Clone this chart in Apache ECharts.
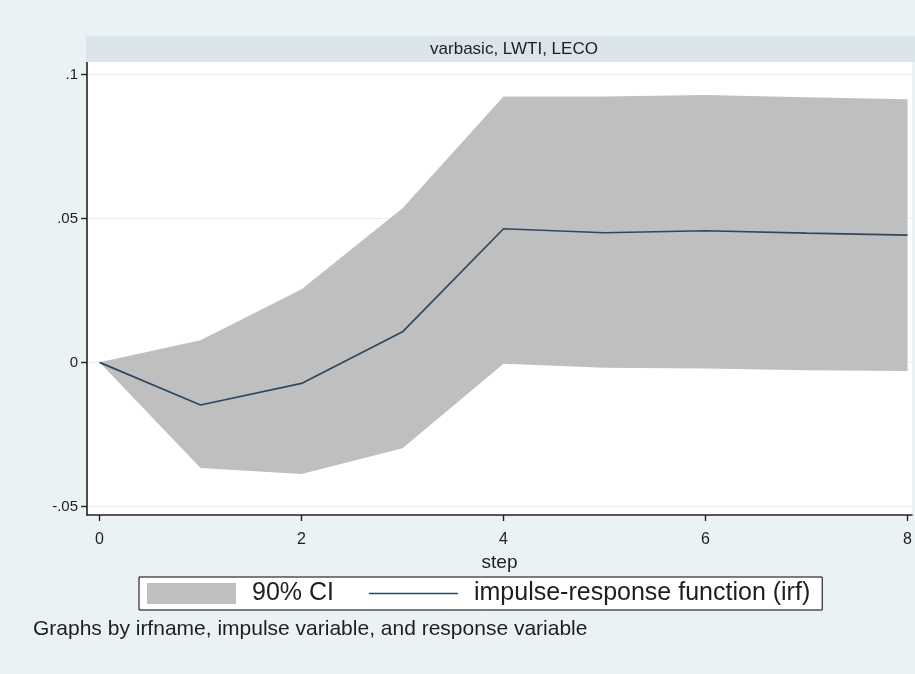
<!DOCTYPE html>
<html>
<head>
<meta charset="utf-8">
<script src="https://cdn.jsdelivr.net/npm/echarts@6/dist/echarts.min.js"></script>
<style>
  html, body { margin: 0; padding: 0; background: #eaf2f3; }
  #chart { width: 915px; height: 674px; }
</style>
</head>
<body>
<div id="chart"></div>
<script>
// Impulse-response of LECO to an LWTI shock, with 90% confidence band
const steps   = [0, 1, 2, 3, 4, 5, 6, 7, 8];
const irf     = [0, -0.0148, -0.0073, 0.0106, 0.0464, 0.0450, 0.0457, 0.0449, 0.0442];
const ciLower = [0, -0.0367, -0.0388, -0.0298, -0.0005, -0.0019, -0.0021, -0.0027, -0.0030];
const ciUpper = [0, 0.0077, 0.0254, 0.0535, 0.0923, 0.0923, 0.0928, 0.0921, 0.0914];

const yTicks      = [-0.05, 0, 0.05, 0.1];
const yTickLabels = ['-.05', '0', '.05', '.1'];
const xTicks      = [0, 2, 4, 6, 8];

const panelTitle = 'varbasic, LWTI, LECO';
const xTitle     = 'step';
const ciName     = '90% CI';
const irfName    = 'impulse-response function (irf)';
const note       = 'Graphs by irfname, impulse variable, and response variable';

const FONT = '"Liberation Sans", Arial, sans-serif';
const INK = '#1e1e1e';
const AXIS = '#222';
const BAND = '#bfbfbf';
const LINE = '#2d4760';

// legend key for the irf: a thin horizontal bar inside a full-height box
const LINE_KEY = 'path://M0,0 L89,0 L89,0.01 L0,0.01 Z M0,9.7 L89,9.7 L89,11.3 L0,11.3 Z M0,21 L89,21 L89,21.01 L0,21.01 Z';

const chart = echarts.init(document.getElementById('chart'), null, { renderer: 'canvas' });

function yLabel(v) {
  for (let i = 0; i < yTicks.length; i++) {
    if (Math.abs(yTicks[i] - v) < 1e-9) return yTickLabels[i];
  }
  return '';
}

const bandData = steps.map((s, i) => [s, ciLower[i], ciUpper[i]]);
const irfData = steps.map((s, i) => [s, irf[i]]);

chart.setOption({
  backgroundColor: '#eaf2f3',
  animation: false,
  grid: {
    left: 87, right: 0, top: 62, bottom: 159,
    show: true, backgroundColor: '#ffffff', borderWidth: 0
  },
  xAxis: {
    type: 'value',
    min: -0.124, max: 8.044,
    name: xTitle,
    nameLocation: 'middle',
    nameGap: 38,
    nameTextStyle: { fontFamily: FONT, fontSize: 19, color: INK },
    axisLine: { show: true, onZero: false, lineStyle: { color: AXIS, width: 1.6 } },
    axisTick: { show: true, length: 6, customValues: xTicks, lineStyle: { color: AXIS, width: 1.4 } },
    axisLabel: { customValues: xTicks, margin: 17, fontFamily: FONT, fontSize: 16, color: INK },
    splitLine: { show: false }
  },
  yAxis: {
    type: 'value',
    min: -0.053, max: 0.1043,
    axisLine: { show: true, onZero: false, lineStyle: { color: AXIS, width: 1.6 } },
    axisTick: { show: true, length: 6, customValues: yTicks, lineStyle: { color: AXIS, width: 1.4 } },
    axisLabel: { customValues: yTicks, margin: 9, formatter: yLabel, fontFamily: FONT, fontSize: 15, color: INK },
    splitLine: { show: false }
  },
  legend: {
    left: 139, top: 577,
    orient: 'horizontal',
    backgroundColor: '#ffffff',
    borderColor: '#000', borderWidth: 1, borderRadius: 0,
    padding: [4, 12, 4, 8],
    itemWidth: 89, itemHeight: 21, itemGap: 35,
    selectedMode: false,
    textStyle: { fontFamily: FONT, fontSize: 25, color: INK, padding: [0, 0, 0, 11] },
    data: [
      { name: ciName, icon: 'rect' },
      { name: irfName, icon: LINE_KEY }
    ]
  },
  series: [
    {
      // faint horizontal rules at the labelled y values, kept beneath the band
      type: 'line',
      name: 'rules',
      data: [],
      silent: true,
      z: 0,
      markLine: {
        silent: true,
        z: 0,
        symbol: 'none',
        label: { show: false },
        lineStyle: { color: '#e8eff1', width: 1, type: 'solid' },
        data: yTicks.map(v => ({ yAxis: v }))
      }
    },
    {
      type: 'custom',
      name: ciName,
      data: bandData,
      encode: { x: 0, y: [1, 2] },
      itemStyle: { color: BAND },
      z: 2,
      renderItem: function (params, api) {
        if (params.dataIndex !== 0) return null;
        const pts = [];
        for (let i = 0; i < steps.length; i++) pts.push(api.coord([steps[i], ciUpper[i]]));
        for (let i = steps.length - 1; i >= 0; i--) pts.push(api.coord([steps[i], ciLower[i]]));
        return {
          type: 'polygon',
          shape: { points: pts },
          style: { fill: BAND, stroke: 'none' }
        };
      }
    },
    {
      type: 'line',
      name: irfName,
      data: irfData,
      symbol: 'none',
      z: 3,
      lineStyle: { color: LINE, width: 1.7 },
      itemStyle: { color: LINE }
    }
  ],
  graphic: [
    {
      type: 'rect',
      shape: { x: 86, y: 36, width: 829, height: 26 },
      style: { fill: '#d9e5ea' },
      z: 10
    },
    {
      type: 'text',
      x: 514, y: 49,
      style: {
        text: panelTitle, fontFamily: FONT, fontSize: 17, fill: INK,
        align: 'center', verticalAlign: 'middle'
      },
      z: 11
    },
    {
      type: 'text',
      x: 33, y: 629,
      style: {
        text: note, fontFamily: FONT, fontSize: 21, fill: INK,
        align: 'left', verticalAlign: 'middle'
      },
      z: 11
    }
  ]
});
</script>
</body>
</html>
